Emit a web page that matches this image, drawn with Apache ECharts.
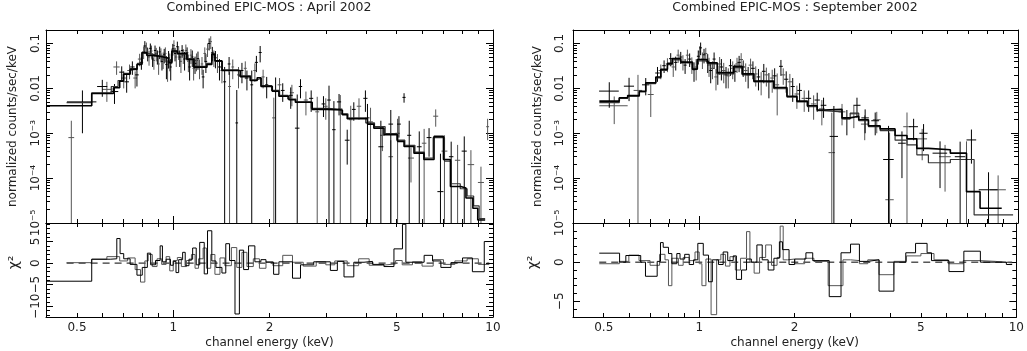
<!DOCTYPE html>
<html lang="en">
<head>
<meta charset="UTF-8">
<title>Combined EPIC-MOS spectra</title>
<script src="https://cdn.jsdelivr.net/npm/echarts@6.0.0/dist/echarts.min.js"></script>
<style>html, body { margin: 0; padding: 0; background: #fff; }</style>
</head>
<body>
<div id="main" style="width:1027px;height:351px"></div>
<script>
// ---- data: crosses are [energy keV, half bin width, counts, error] ----
var aprMos1 = [
  [0.520, 0.055, 0.0050, 0.0040], [0.600, 0.022, 0.0110, 0.0045], [0.655, 0.018, 0.0085, 0.0040],
  [0.690, 0.012, 0.0230, 0.0080], [0.715, 0.012, 0.0140, 0.0060], [0.745, 0.012, 0.0300, 0.0100],
  [0.770, 0.010, 0.0200, 0.0090], [0.795, 0.010, 0.0380, 0.0120], [0.815, 0.008, 0.0880, 0.0250],
  [0.832, 0.008, 0.0600, 0.0200], [0.848, 0.007, 0.0780, 0.0220], [0.862, 0.007, 0.0450, 0.0150],
  [0.877, 0.007, 0.0700, 0.0200], [0.892, 0.007, 0.0520, 0.0180], [0.907, 0.007, 0.0650, 0.0200],
  [0.922, 0.007, 0.0400, 0.0150], [0.937, 0.007, 0.0560, 0.0200], [0.952, 0.007, 0.0340, 0.0180],
  [0.967, 0.007, 0.0480, 0.0200], [0.982, 0.007, 0.0300, 0.0150], [0.997, 0.008, 0.0760, 0.0220],
  [1.013, 0.008, 0.0600, 0.0200], [1.030, 0.008, 0.0850, 0.0250], [1.048, 0.008, 0.0500, 0.0200],
  [1.066, 0.009, 0.0700, 0.0220], [1.085, 0.009, 0.0450, 0.0200], [1.105, 0.010, 0.0620, 0.0200],
  [1.125, 0.010, 0.0300, 0.0150], [1.147, 0.010, 0.0500, 0.0200], [1.170, 0.011, 0.0360, 0.0150],
  [1.195, 0.011, 0.0460, 0.0200], [1.240, 0.012, 0.0180, 0.0080], [1.265, 0.012, 0.0400, 0.0180],
  [1.295, 0.012, 0.1000, 0.0300], [1.325, 0.013, 0.0620, 0.0220], [1.355, 0.013, 0.0480, 0.0200],
  [1.395, 0.015, 0.0300, 0.0150], [1.448, 0.015, 0.0140, 0.0160], [1.495, 0.015, 0.0350, 0.0150],
  [1.580, 0.015, 0.0017, 0.0075], [1.640, 0.018, 0.0250, 0.0120], [1.700, 0.018, 0.0170, 0.0080],
  [1.760, 0.018, 0.0120, 0.0130], [1.820, 0.020, 0.0380, 0.0150], [1.870, 0.020, 0.0630, 0.0250],
  [1.960, 0.022, 0.0120, 0.0060], [2.090, 0.030, 0.0085, 0.0090], [2.200, 0.030, 0.0090, 0.0040],
  [2.330, 0.035, 0.0070, 0.0035], [2.442, 0.040, 0.0013, 0.0060], [2.500, 0.030, 0.0110, 0.0050],
  [2.700, 0.040, 0.0060, 0.0030], [2.950, 0.040, 0.0045, 0.0022], [3.070, 0.040, 0.0055, 0.0060],
  [3.180, 0.040, 0.0012, 0.0040], [3.300, 0.050, 0.0050, 0.0025], [3.500, 0.060, 0.0007, 0.0005],
  [3.670, 0.050, 0.0034, 0.0015], [3.990, 0.060, 0.0060, 0.0030], [4.050, 0.060, 0.0022, 0.0023],
  [4.460, 0.080, 0.0005, 0.0014], [4.790, 0.080, 0.0016, 0.0017], [5.080, 0.070, 0.0016, 0.0008],
  [5.270, 0.060, 0.0063, 0.0015], [5.470, 0.080, 0.0009, 0.0010], [5.880, 0.100, 0.0005, 0.0006],
  [6.310, 0.110, 0.0008, 0.0005], [6.850, 0.150, 0.00005, 0.0003], [7.400, 0.120, 0.0003, 0.00035],
  [8.130, 0.150, 0.0004, 0.00045]
];
var aprMos2 = [
  [0.480, 0.010, 0.0008, 0.0011], [0.620, 0.020, 0.0095, 0.0045], [0.665, 0.015, 0.0300, 0.0100],
  [0.700, 0.012, 0.0170, 0.0070], [0.730, 0.012, 0.0250, 0.0090], [0.760, 0.010, 0.0170, 0.0070],
  [0.785, 0.010, 0.0450, 0.0140], [0.808, 0.008, 0.0650, 0.0200], [0.824, 0.008, 0.0800, 0.0250],
  [0.840, 0.007, 0.0500, 0.0180], [0.855, 0.007, 0.0680, 0.0220], [0.870, 0.007, 0.0420, 0.0160],
  [0.885, 0.007, 0.0600, 0.0200], [0.900, 0.007, 0.0350, 0.0150], [0.915, 0.007, 0.0580, 0.0200],
  [0.930, 0.007, 0.0450, 0.0180], [0.945, 0.007, 0.0600, 0.0220], [0.960, 0.007, 0.0280, 0.0140],
  [0.975, 0.007, 0.0420, 0.0180], [0.990, 0.007, 0.0550, 0.0200], [1.005, 0.008, 0.0900, 0.0280],
  [1.022, 0.008, 0.0500, 0.0200], [1.040, 0.008, 0.0650, 0.0220], [1.057, 0.008, 0.0400, 0.0180],
  [1.075, 0.009, 0.0550, 0.0200], [1.095, 0.009, 0.0700, 0.0250], [1.115, 0.010, 0.0400, 0.0170],
  [1.136, 0.010, 0.0550, 0.0200], [1.158, 0.010, 0.0280, 0.0130], [1.182, 0.011, 0.0420, 0.0180],
  [1.208, 0.011, 0.0300, 0.0140], [1.230, 0.011, 0.0350, 0.0150], [1.255, 0.012, 0.0600, 0.0220],
  [1.280, 0.012, 0.0750, 0.0250], [1.310, 0.012, 0.1100, 0.0350], [1.340, 0.013, 0.0500, 0.0200],
  [1.375, 0.014, 0.0400, 0.0180], [1.420, 0.015, 0.0250, 0.0120], [1.500, 0.015, 0.0110, 0.0120],
  [1.535, 0.015, 0.0300, 0.0140], [1.600, 0.017, 0.0200, 0.0100], [1.680, 0.018, 0.0280, 0.0120],
  [1.800, 0.020, 0.0250, 0.0110], [1.910, 0.022, 0.0180, 0.0080], [2.063, 0.025, 0.0022, 0.0040],
  [2.150, 0.030, 0.0120, 0.0050], [2.350, 0.035, 0.0080, 0.0040], [2.600, 0.040, 0.0055, 0.0030],
  [2.820, 0.040, 0.0030, 0.0035], [3.000, 0.040, 0.0040, 0.0020], [3.330, 0.050, 0.0035, 0.0036],
  [3.590, 0.050, 0.0020, 0.0021], [3.810, 0.060, 0.0040, 0.0020], [4.140, 0.070, 0.0018, 0.0019],
  [4.510, 0.070, 0.0009, 0.0005], [4.790, 0.080, 0.0003, 0.0004], [5.030, 0.080, 0.0010, 0.0011],
  [5.540, 0.120, 0.00028, 0.0002], [6.090, 0.100, 0.0006, 0.00065], [6.620, 0.120, 0.0024, 0.0010],
  [7.050, 0.150, 0.0004, 0.0005], [7.750, 0.150, 0.00025, 0.0003], [8.530, 0.200, 0.0002, 0.00022],
  [9.170, 0.200, 0.00008, 0.0001], [9.620, 0.100, 0.0014, 0.0007]
];
var sepMos1 = [
  [0.520, 0.037, 0.0087, 0.0050], [0.600, 0.022, 0.0112, 0.0060], [0.677, 0.018, 0.0120, 0.0050],
  [0.737, 0.012, 0.0220, 0.0080], [0.773, 0.010, 0.0320, 0.0100], [0.811, 0.010, 0.0460, 0.0150],
  [0.841, 0.010, 0.0380, 0.0130], [0.872, 0.010, 0.0500, 0.0150], [0.900, 0.010, 0.0330, 0.0120],
  [0.930, 0.010, 0.0450, 0.0150], [0.960, 0.010, 0.0260, 0.0120], [0.990, 0.010, 0.0520, 0.0180],
  [1.007, 0.010, 0.0800, 0.0250], [1.032, 0.010, 0.0560, 0.0200], [1.060, 0.012, 0.0400, 0.0180],
  [1.083, 0.012, 0.0250, 0.0120], [1.110, 0.012, 0.0450, 0.0180], [1.140, 0.014, 0.0220, 0.0100],
  [1.170, 0.014, 0.0300, 0.0150], [1.210, 0.015, 0.0200, 0.0100], [1.250, 0.015, 0.0320, 0.0130],
  [1.290, 0.016, 0.0240, 0.0100], [1.330, 0.016, 0.0380, 0.0150], [1.370, 0.018, 0.0300, 0.0120],
  [1.420, 0.018, 0.0200, 0.0100], [1.470, 0.020, 0.0280, 0.0120], [1.530, 0.020, 0.0180, 0.0090],
  [1.590, 0.022, 0.0240, 0.0110], [1.650, 0.022, 0.0140, 0.0080], [1.720, 0.025, 0.0190, 0.0090],
  [1.800, 0.025, 0.0310, 0.0120], [1.870, 0.028, 0.0160, 0.0080], [1.960, 0.030, 0.0110, 0.0060],
  [2.060, 0.035, 0.0090, 0.0040], [2.200, 0.040, 0.0060, 0.0030], [2.340, 0.045, 0.0055, 0.0025],
  [2.450, 0.050, 0.0042, 0.0020], [2.640, 0.080, 0.00085, 0.0032], [2.900, 0.070, 0.0021, 0.0012],
  [3.120, 0.080, 0.0042, 0.0020], [3.310, 0.090, 0.0022, 0.0012], [3.560, 0.100, 0.0019, 0.0010],
  [3.920, 0.150, 0.00026, 0.0012], [4.320, 0.120, 0.0006, 0.0005], [4.700, 0.150, 0.0014, 0.0007],
  [5.050, 0.150, 0.0010, 0.0006], [5.690, 0.300, 0.00036, 0.0003], [6.580, 0.250, 0.0003, 0.00035],
  [7.140, 0.250, 0.00071, 0.0005], [8.080, 0.550, 0.000055, 0.00008]
];
var sepMos2 = [
  [0.539, 0.055, 0.0041, 0.0025], [0.640, 0.020, 0.0090, 0.0110], [0.702, 0.015, 0.0073, 0.0050],
  [0.755, 0.012, 0.0250, 0.0090], [0.792, 0.010, 0.0350, 0.0120], [0.826, 0.010, 0.0300, 0.0120],
  [0.856, 0.010, 0.0550, 0.0180], [0.886, 0.010, 0.0400, 0.0150], [0.915, 0.010, 0.0550, 0.0180],
  [0.945, 0.010, 0.0350, 0.0140], [0.975, 0.010, 0.0300, 0.0150], [1.000, 0.010, 0.0650, 0.0220],
  [1.020, 0.010, 0.0450, 0.0180], [1.045, 0.012, 0.0600, 0.0200], [1.070, 0.012, 0.0330, 0.0150],
  [1.097, 0.012, 0.0280, 0.0120], [1.125, 0.014, 0.0180, 0.0090], [1.155, 0.014, 0.0350, 0.0150],
  [1.190, 0.015, 0.0250, 0.0120], [1.230, 0.015, 0.0190, 0.0090], [1.270, 0.016, 0.0280, 0.0120],
  [1.310, 0.016, 0.0350, 0.0130], [1.350, 0.018, 0.0440, 0.0170], [1.395, 0.018, 0.0250, 0.0110],
  [1.445, 0.020, 0.0330, 0.0130], [1.500, 0.020, 0.0210, 0.0100], [1.560, 0.022, 0.0150, 0.0080],
  [1.620, 0.022, 0.0200, 0.0090], [1.690, 0.025, 0.0170, 0.0090], [1.752, 0.025, 0.0120, 0.0095],
  [1.830, 0.028, 0.0200, 0.0080], [1.920, 0.030, 0.0140, 0.0070], [2.020, 0.035, 0.0075, 0.0040],
  [2.130, 0.040, 0.0060, 0.0030], [2.280, 0.045, 0.0045, 0.0025], [2.420, 0.050, 0.0035, 0.0020],
  [2.600, 0.060, 0.00037, 0.0025], [2.800, 0.070, 0.0030, 0.0015], [3.050, 0.080, 0.0027, 0.0014],
  [3.300, 0.090, 0.0016, 0.0009], [3.600, 0.100, 0.0020, 0.0010], [3.950, 0.120, 0.000033, 0.0010],
  [4.480, 0.120, 0.0014, 0.0015], [5.000, 0.180, 0.00075, 0.0005], [5.900, 0.250, 0.0003, 0.00025],
  [6.890, 0.200, 0.00026, 0.0004], [8.660, 0.500, 0.000055, 0.00006]
];

// ---- folded model histograms: bin edges (keV) and counts ----
var aprModel1Edges = [0.40, 0.556, 0.650, 0.680, 0.699, 0.733, 0.770, 0.798, 0.827, 0.878, 0.930, 0.967, 0.990, 1.030, 1.104, 1.160, 1.275, 1.320, 1.350, 1.420, 1.620, 1.740, 1.830, 1.880, 2.040, 2.140, 2.300, 2.410, 2.720, 3.030, 3.380, 3.500, 4.050, 4.240, 4.560, 5.030, 5.270, 5.660, 6.080, 6.540, 7.000, 7.360, 7.930, 8.230, 8.650, 8.960, 9.450];
var aprModel1 = [0.0041, 0.0077, 0.0103, 0.0145, 0.0206, 0.0265, 0.034, 0.063, 0.054, 0.050, 0.047, 0.0375, 0.068, 0.060, 0.044, 0.0297, 0.034, 0.058, 0.041, 0.025, 0.0183, 0.0150, 0.0172, 0.0111, 0.0086, 0.0067, 0.0056, 0.0049, 0.0034, 0.0033, 0.0026, 0.0021, 0.0016, 0.0013, 0.00093, 0.00066, 0.00051, 0.00036, 0.00026, 0.00085, 0.00026, 0.000065, 0.00006, 0.000036, 0.0000213, 0.0000117];
var aprModel2Edges = [0.464, 0.556, 0.640, 0.672, 0.700, 0.735, 0.772, 0.800, 0.830, 0.880, 0.930, 0.965, 0.992, 1.032, 1.100, 1.165, 1.270, 1.318, 1.352, 1.425, 1.600, 1.750, 1.820, 1.890, 2.030, 2.150, 2.280, 2.420, 2.700, 3.050, 3.350, 3.520, 4.000, 4.260, 4.600, 5.000, 5.300, 5.700, 6.100, 6.500, 7.050, 7.400, 7.900, 8.300, 8.700, 9.050, 9.450];
var aprModel2 = [0.0048, 0.0080, 0.0110, 0.0150, 0.0215, 0.0275, 0.036, 0.060, 0.056, 0.051, 0.048, 0.040, 0.065, 0.058, 0.046, 0.031, 0.036, 0.055, 0.040, 0.026, 0.0190, 0.0155, 0.0168, 0.0115, 0.0090, 0.0070, 0.0058, 0.0050, 0.0036, 0.0034, 0.0027, 0.0022, 0.0017, 0.0014, 0.00098, 0.00070, 0.00054, 0.00038, 0.00028, 0.00080, 0.00024, 0.000075, 0.000058, 0.000040, 0.000024, 0.0000125];
var sepModel1Edges = [0.484, 0.559, 0.594, 0.646, 0.677, 0.728, 0.755, 0.792, 0.820, 0.872, 0.949, 0.983, 1.057, 1.136, 1.280, 1.360, 1.480, 1.710, 1.880, 2.020, 2.180, 2.340, 2.450, 2.800, 2.970, 3.160, 3.390, 3.690, 4.110, 4.480, 4.810, 5.230, 6.130, 6.890, 7.600, 8.890];
var sepModel1 = [0.0052, 0.0062, 0.0069, 0.0086, 0.0134, 0.018, 0.0266, 0.036, 0.046, 0.0385, 0.0266, 0.044, 0.037, 0.0225, 0.031, 0.021, 0.0145, 0.0104, 0.0067, 0.0052, 0.0041, 0.0033, 0.0034, 0.0022, 0.0024, 0.0020, 0.00147, 0.00125, 0.00089, 0.00075, 0.00046, 0.00043, 0.00036, 0.000050, 0.0000213];
var sepModel2Edges = [0.484, 0.559, 0.594, 0.646, 0.677, 0.728, 0.755, 0.792, 0.820, 0.872, 0.949, 0.983, 1.057, 1.136, 1.280, 1.360, 1.480, 1.710, 1.880, 2.020, 2.180, 2.340, 2.450, 2.800, 2.970, 3.160, 3.390, 3.690, 4.110, 4.480, 4.810, 5.230, 6.130, 7.280, 9.650];
var sepModel2 = [0.0048, 0.0060, 0.0067, 0.0083, 0.0128, 0.0172, 0.025, 0.034, 0.043, 0.037, 0.028, 0.041, 0.035, 0.021, 0.029, 0.020, 0.0140, 0.0098, 0.0064, 0.0050, 0.0039, 0.0032, 0.0030, 0.0021, 0.0028, 0.0019, 0.00140, 0.00115, 0.00070, 0.00055, 0.00033, 0.00022, 0.00026, 0.0000151];

// ---- chi^2 residual histograms ----
var aprResid1Edges = [0.40, 0.556, 0.635, 0.666, 0.682, 0.70, 0.733, 0.77, 0.80, 0.83, 0.85, 0.88, 0.91, 0.925, 0.95, 0.98, 1.0, 1.02, 1.04, 1.07, 1.09, 1.12, 1.15, 1.18, 1.21, 1.25, 1.28, 1.32, 1.36, 1.42, 1.46, 1.50, 1.56, 1.61, 1.66, 1.72, 1.80, 1.88, 1.95, 2.06, 2.14, 2.36, 2.50, 2.75, 3.10, 3.26, 3.42, 3.67, 3.95, 4.2, 4.56, 4.9, 5.21, 5.34, 6.09, 6.47, 6.87, 7.39, 8.03, 8.62, 9.39, 9.74];
var aprResid1 = [-4.2, 0.9, 1.0, 5.7, 2.2, 1.0, -0.3, -2.8, -1.0, 2.3, -0.4, 0.6, 4.0, 0.3, 0.9, -0.5, 0.4, -2.2, 0.8, 2.5, -0.6, 0.9, 3.5, -0.4, 4.8, -2.5, 7.5, 0.5, -1.0, -2.3, 4.5, 0.6, -11.8, 3.0, -1.5, 4.0, 0.3, 0.8, 0.2, -2.6, 0.3, -3.5, -0.4, 0.3, -1.7, 0.4, -3.2, 0.2, 0.4, -0.3, -0.8, 3.3, 9.0, 0.2, 1.8, 0.5, -1.0, 0.1, 1.2, -2.0, 5.0];
var aprResid2Edges = [0.464, 0.556, 0.62, 0.68, 0.72, 0.76, 0.79, 0.815, 0.835, 0.86, 0.89, 0.92, 0.95, 0.975, 1.0, 1.03, 1.06, 1.10, 1.14, 1.17, 1.20, 1.24, 1.27, 1.31, 1.35, 1.40, 1.45, 1.52, 1.58, 1.64, 1.70, 1.78, 1.86, 1.95, 2.05, 2.2, 2.36, 2.55, 2.8, 3.0, 3.2, 3.5, 3.8, 4.1, 4.5, 4.96, 5.2, 5.6, 6.0, 6.5, 7.0, 7.6, 8.3, 9.0, 9.74];
var aprResid2 = [0.1, 0.9, 1.5, 0.5, 1.2, -1.5, -4.4, 0.5, 2.0, -0.8, 1.0, -0.3, 1.5, -1.8, 0.6, 1.3, -0.8, 0.6, 2.0, -1.2, 1.0, 3.5, -1.2, 2.0, -2.6, 1.2, -0.6, 3.6, -1.0, 2.5, -0.8, 1.0, -1.2, 0.3, -0.6, 1.8, 0.2, -0.7, 0.3, -0.4, 0.5, -0.6, 1.0, -0.5, -0.2, 0.6, -0.4, 0.3, -0.7, 0.8, -0.3, 0.5, 1.0, -0.3];
var sepResid1Edges = [0.484, 0.561, 0.587, 0.654, 0.677, 0.737, 0.755, 0.77, 0.80, 0.82, 0.85, 0.87, 0.90, 0.93, 0.96, 0.99, 1.03, 1.07, 1.10, 1.15, 1.19, 1.23, 1.28, 1.31, 1.36, 1.41, 1.46, 1.52, 1.58, 1.65, 1.72, 1.79, 1.83, 1.92, 2.0, 2.17, 2.28, 2.57, 2.80, 3.0, 3.2, 3.4, 3.69, 4.11, 4.48, 4.81, 5.23, 5.4, 6.13, 6.83, 7.7, 9.3, 9.7];
var sepResid1 = [1.15, 0.0, 0.85, 0.0, -1.8, 0.1, 2.5, 1.9, 1.1, -0.2, 1.1, 0.4, 1.0, -0.3, 0.3, 2.4, 0.9, -2.5, 0.3, -0.3, 1.3, 0.2, 0.8, -2.2, -1.0, 0.4, 0.0, 2.2, 0.3, -1.0, 0.5, 2.6, 1.6, -0.3, 0.4, 1.2, 0.2, -4.4, 1.2, 2.3, 0.1, 0.3, -3.7, 0.0, 1.2, 2.4, 1.2, 0.2, -1.2, 1.4, 0.0, -0.3];
var sepResid2Edges = [0.484, 0.56, 0.60, 0.646, 0.70, 0.75, 0.78, 0.80, 0.82, 0.86, 0.89, 0.93, 0.97, 1.0, 1.02, 1.05, 1.09, 1.135, 1.17, 1.21, 1.25, 1.30, 1.35, 1.41, 1.445, 1.49, 1.55, 1.62, 1.69, 1.76, 1.80, 1.84, 1.90, 2.0, 2.15, 2.3, 2.55, 2.84, 3.0, 3.2, 3.4, 3.69, 4.11, 4.5, 5.0, 5.5, 6.1, 6.8, 7.7, 8.6, 9.7];
var sepResid2 = [-0.2, 0.1, 0.9, 0.2, -0.4, 1.0, 0.3, -3.0, 0.5, -0.4, 0.6, 0.2, 1.3, -0.2, -3.0, 0.4, -6.7, 0.3, 1.0, -0.5, 0.7, -1.0, 0.5, 3.9, 0.0, -1.4, 0.6, 2.2, -0.4, 0.6, 4.6, 0.3, 0.4, -0.2, 0.5, 0.1, -3.0, 0.3, 0.2, -0.2, 0.3, -1.6, 0.1, 0.8, 1.1, 0.3, -0.2, 0.2, 0.1, -0.1];

// ---- axes ticks and labels ----
var energyMajor = [1, 10];
var energyMinor = [0.5, 0.6, 0.7, 0.8, 0.9, 2, 3, 4, 5, 6, 7, 8, 9];
var energyLabels = [0.5, 1, 2, 5, 10];
var countsMajor = [1e-5, 1e-4, 1e-3, 0.01, 0.1];
var countsMinorSteps = [2, 3, 4, 5, 6, 7, 8, 9];
var aprChiRange = [-12.5, 9.3], sepChiRange = [-7, 5];
var aprChiLabels = [-10, -5, 0, 5], sepChiLabels = [-5, 0];

var titles = ['Combined EPIC-MOS : April 2002', 'Combined EPIC-MOS : September 2002'];

// -------------------------------------------------------------
var lg = Math.log10;
var FONT = 'DejaVu Sans';
var TXT = '#222';
var X_MIN = lg(0.4), X_MAX = 1;
var Y_MIN = -5, Y_MAX = lg(0.2);
var BLACK = '#000', GREY = '#555';

var countsMinor = [];
countsMajor.forEach(function (d) {
  countsMinorSteps.forEach(function (s) {
    if (d * s <= 0.2) countsMinor.push(d * s);
  });
});

var SUP = { '3': '\u00b3', '4': '\u2074', '5': '\u2075' };
function fmtCounts(v) {
  var e = Math.round(v);
  if (e === -1) return '0.1';
  if (e === -2) return '0.01';
  return '10\u207b' + SUP[String(-e)];
}
function fmtEnergy(v) {
  return String(+Math.pow(10, v).toPrecision(2));
}

var labelStyle = { fontFamily: FONT, fontSize: 12, color: TXT };

function xAxes(grid, withLabels) {
  var list = [];
  ['bottom', 'top'].forEach(function (pos) {
    list.push({
      type: 'value', gridIndex: grid, position: pos, min: X_MIN, max: X_MAX,
      splitLine: { show: false },
      axisLine: { show: true, onZero: false, lineStyle: { color: BLACK, width: 1 } },
      axisTick: { show: true, inside: true, length: 7, customValues: energyMajor.map(lg), lineStyle: { color: BLACK, width: 1 } },
      axisLabel: { show: false }
    });
    var minor = {
      type: 'value', gridIndex: grid, position: pos, min: X_MIN, max: X_MAX,
      splitLine: { show: false },
      axisLine: { show: false, onZero: false },
      axisTick: { show: true, inside: true, length: 4, customValues: energyMinor.map(lg), lineStyle: { color: BLACK, width: 1 } },
      axisLabel: { show: false }
    };
    if (pos === 'bottom' && withLabels) {
      minor.axisLabel = Object.assign({ show: true, margin: 5, customValues: energyLabels.map(lg), formatter: fmtEnergy }, labelStyle);
      minor.name = 'channel energy (keV)';
      minor.nameLocation = 'middle';
      minor.nameGap = 20;
      minor.nameTextStyle = labelStyle;
    }
    list.push(minor);
  });
  return list;
}

function yAxes(grid, cfg) {
  var list = [];
  ['left', 'right'].forEach(function (pos) {
    var major = {
      type: 'value', gridIndex: grid, position: pos, min: cfg.min, max: cfg.max,
      splitLine: { show: false },
      axisLine: { show: true, onZero: false, lineStyle: { color: BLACK, width: 1 } },
      axisTick: { show: true, inside: true, length: 7, customValues: cfg.major, lineStyle: { color: BLACK, width: 1 } },
      axisLabel: { show: false }
    };
    if (pos === 'left') {
      major.axisLabel = Object.assign({ show: true, rotate: 90, margin: cfg.margin, customValues: cfg.labels, formatter: cfg.fmt }, labelStyle);
      major.name = cfg.name;
      major.nameLocation = 'middle';
      major.nameGap = cfg.nameGap;
      major.nameTextStyle = Object.assign({}, labelStyle, { fontSize: cfg.nameSize || 12, padding: cfg.namePad || 0 });
    }
    list.push(major);
    list.push({
      type: 'value', gridIndex: grid, position: pos, min: cfg.min, max: cfg.max,
      splitLine: { show: false },
      axisLine: { show: false, onZero: false },
      axisTick: { show: true, inside: true, length: 4, customValues: cfg.minor, lineStyle: { color: BLACK, width: 1 } },
      axisLabel: { show: false }
    });
  });
  return list;
}

function intsBetween(lo, hi, skip) {
  var out = [];
  for (var i = Math.ceil(lo); i <= Math.floor(hi); i++) {
    if (skip.indexOf(i) < 0) out.push(i);
  }
  return out;
}

function crossSeries(grid, pts, color) {
  var data = pts.map(function (p) {
    var lo = p[2] - p[3];
    return [lg(p[0] - p[1]), lg(p[0] + p[1]), lg(p[0]), lg(p[2]),
      lo > 1e-5 ? lg(lo) : Y_MIN, Math.min(lg(p[2] + p[3]), Y_MAX)];
  });
  return {
    type: 'custom', xAxisIndex: grid * 4, yAxisIndex: grid * 4, silent: true,
    encode: { x: [0, 1, 2], y: [3, 4, 5] },
    data: data,
    renderItem: function (params, api) {
      var a = api.coord([api.value(0), api.value(3)]);
      var b = api.coord([api.value(1), api.value(3)]);
      var c = api.coord([api.value(2), api.value(4)]);
      var d = api.coord([api.value(2), api.value(5)]);
      var st = { stroke: color, lineWidth: 1 };
      return {
        type: 'group', children: [
          { type: 'line', shape: { x1: a[0], y1: a[1], x2: b[0], y2: b[1] }, style: st },
          { type: 'line', shape: { x1: c[0], y1: c[1], x2: d[0], y2: d[1] }, style: st }
        ]
      };
    }
  };
}

function stepSeries(grid, edges, vals, isLog, color, width) {
  var data = vals.map(function (v, i) {
    return [lg(edges[i]), isLog ? lg(v) : v];
  });
  var last = vals[vals.length - 1];
  data.push([lg(edges[edges.length - 1]), isLog ? lg(last) : last]);
  return {
    type: 'line', xAxisIndex: grid * 4, yAxisIndex: grid * 4, step: 'end',
    showSymbol: false, symbol: 'none', silent: true, data: data,
    lineStyle: { color: color, width: width }
  };
}

function zeroLine(grid, edges) {
  return {
    type: 'line', xAxisIndex: grid * 4, yAxisIndex: grid * 4, symbol: 'none', silent: true,
    data: [[lg(edges[0]), 0], [lg(edges[edges.length - 1]), 0]],
    lineStyle: { color: BLACK, width: 1, type: [7, 5] }
  };
}

var countsCfg = function (margin, gap) {
  return { min: Y_MIN, max: Y_MAX, major: countsMajor.map(lg), minor: countsMinor.map(lg),
    labels: countsMajor.map(lg), fmt: fmtCounts, margin: margin,
    name: 'normalized counts/sec/keV', nameGap: gap };
};
var chiCfg = function (range, labels, margin, gap) {
  var major = [-10, -5, 0, 5, 10].filter(function (v) { return v >= range[0] && v <= range[1]; });
  return { min: range[0], max: range[1], major: major, minor: intsBetween(range[0], range[1], major),
    labels: labels, fmt: function (v) { return v < 0 ? '\u2212' + (-v) : String(v); }, margin: margin,
    name: '\u03c7\u00b2', nameGap: gap, nameSize: 14, namePad: [0, 0, 0, 15] };
};

var grids = [
  { left: 46, top: 30, width: 447, height: 193 },
  { left: 46, top: 223, width: 447, height: 94 },
  { left: 573, top: 30, width: 445, height: 193 },
  { left: 573, top: 223, width: 445, height: 94 }
];

var xAxisList = [].concat(xAxes(0, false), xAxes(1, true), xAxes(2, false), xAxes(3, true));
var yAxisList = [].concat(
  yAxes(0, countsCfg(4.5, 27)),
  yAxes(1, chiCfg(aprChiRange, aprChiLabels, 4.5, 25)),
  yAxes(2, countsCfg(7, 29)),
  yAxes(3, chiCfg(sepChiRange, sepChiLabels, 7, 33))
);

var series = [
  crossSeries(0, aprMos2, GREY),
  crossSeries(0, aprMos1, BLACK),
  stepSeries(0, aprModel2Edges, aprModel2, true, '#333', 1.2),
  stepSeries(0, aprModel1Edges, aprModel1, true, BLACK, 1.6),
  zeroLine(1, aprResid2Edges),
  stepSeries(1, aprResid2Edges, aprResid2, false, GREY, 1),
  stepSeries(1, aprResid1Edges, aprResid1, false, BLACK, 1),
  crossSeries(2, sepMos2, GREY),
  crossSeries(2, sepMos1, BLACK),
  stepSeries(2, sepModel2Edges, sepModel2, true, '#333', 1.2),
  stepSeries(2, sepModel1Edges, sepModel1, true, BLACK, 1.6),
  zeroLine(3, sepResid1Edges),
  stepSeries(3, sepResid2Edges, sepResid2, false, GREY, 1),
  stepSeries(3, sepResid1Edges, sepResid1, false, BLACK, 1)
];

var chart = echarts.init(document.getElementById('main'), null, { renderer: 'canvas' });
chart.setOption({
  animation: false,
  backgroundColor: '#fff',
  textStyle: { fontFamily: FONT },
  title: [
    { text: titles[0], left: 269, top: 1, padding: 0, textAlign: 'center',
      textStyle: { fontFamily: FONT, fontSize: 12.5, fontWeight: 'normal', color: TXT } },
    { text: titles[1], left: 795, top: 1, padding: 0, textAlign: 'center',
      textStyle: { fontFamily: FONT, fontSize: 12.5, fontWeight: 'normal', color: TXT } }
  ],
  grid: grids,
  xAxis: xAxisList,
  yAxis: yAxisList,
  series: series
});
</script>
</body>
</html>
